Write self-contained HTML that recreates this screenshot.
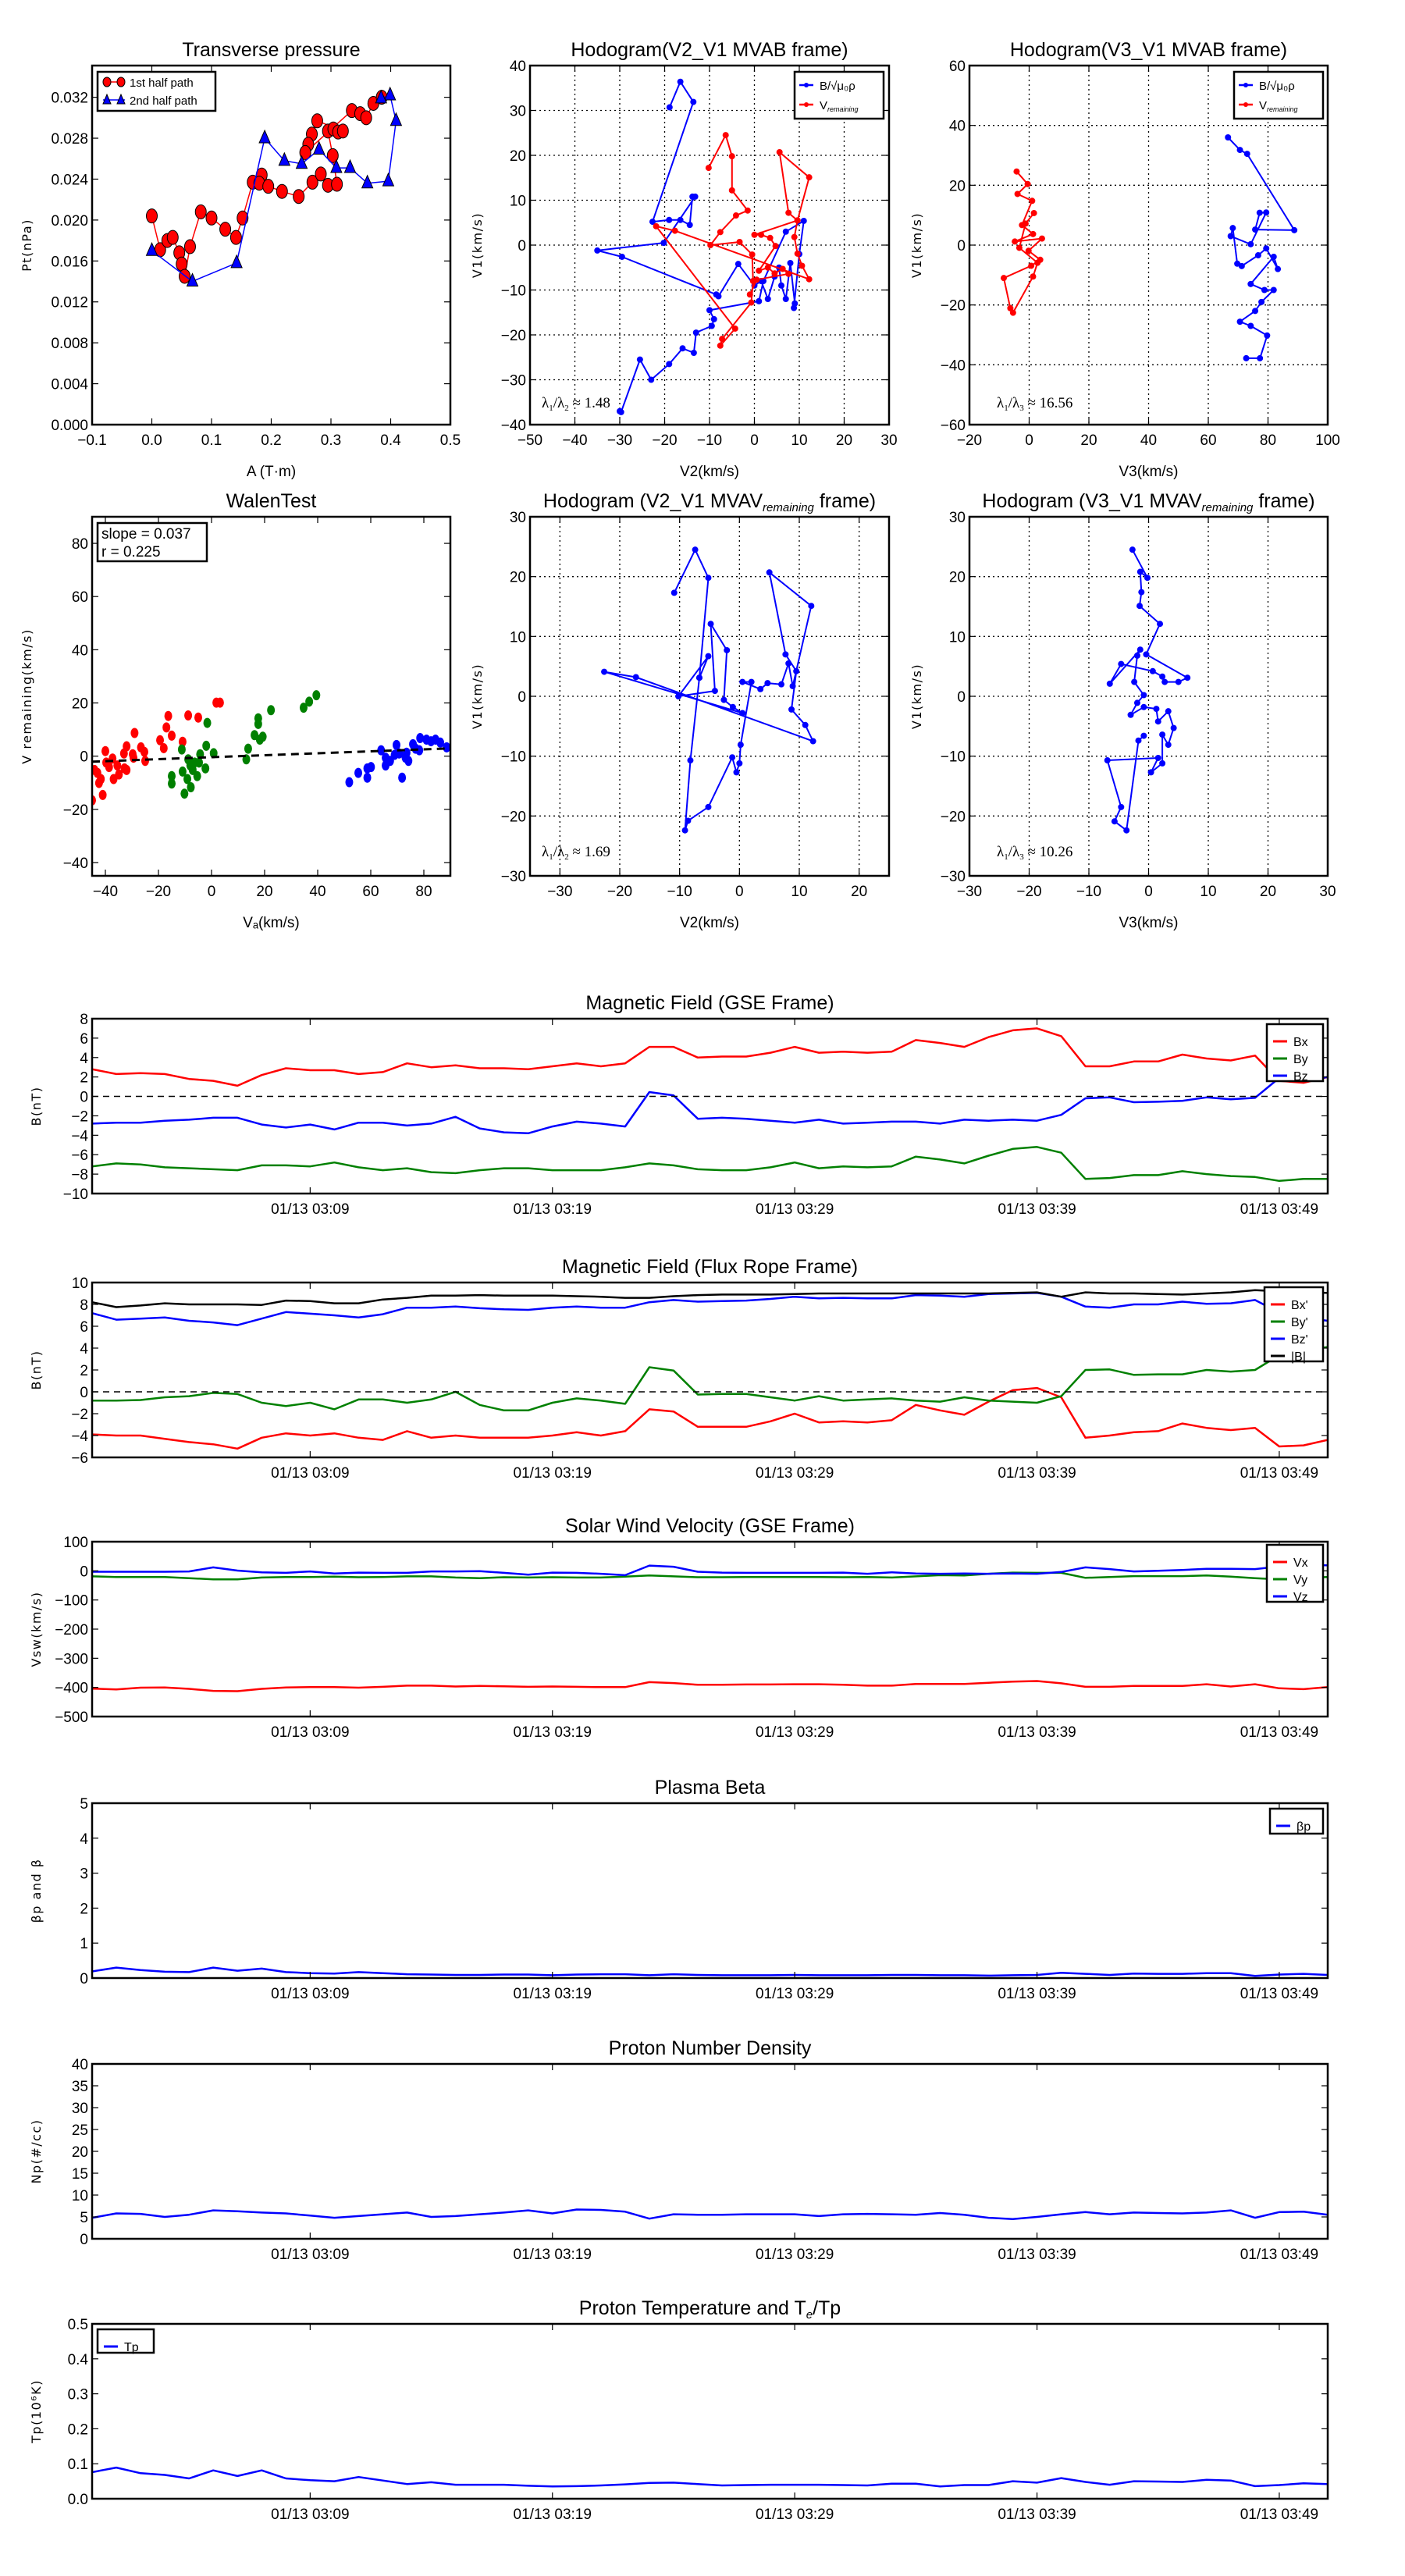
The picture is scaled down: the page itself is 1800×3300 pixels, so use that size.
<!DOCTYPE html>
<html><head><meta charset="utf-8">
<style>
html,body{margin:0;padding:0;background:#fff;}
svg{display:block;font-family:"Liberation Sans Narrow","Liberation Sans",sans-serif;}
</style></head>
<body>
<svg id="fig" width="1800" height="3300" viewBox="0 0 1800 3300" xmlns="http://www.w3.org/2000/svg"></svg>
<script>
// ---------- Time series data (one sample per minute, 03:00 .. 03:51) ----------
const tsMinutes = Array.from({length:52},(_, i)=>i);
const tickMinutes = [9,19,29,39,49];
const tickLabels = ["01/13 03:09","01/13 03:19","01/13 03:29","01/13 03:39","01/13 03:49"];

const gseBx = [2.8,2.3,2.4,2.3,1.8,1.6,1.1,2.2,2.9,2.7,2.7,2.3,2.5,3.4,3.0,3.2,2.9,2.9,2.8,3.1,3.4,3.1,3.4,5.1,5.1,4.0,4.1,4.1,4.5,5.1,4.5,4.6,4.5,4.6,5.8,5.5,5.1,6.1,6.8,7.0,6.2,3.1,3.1,3.6,3.6,4.3,3.9,3.7,4.2,1.6,1.4,2.0];
const gseBy = [-7.2,-6.9,-7.0,-7.3,-7.4,-7.5,-7.6,-7.1,-7.1,-7.2,-6.8,-7.3,-7.6,-7.4,-7.8,-7.9,-7.6,-7.4,-7.4,-7.6,-7.6,-7.6,-7.3,-6.9,-7.1,-7.5,-7.6,-7.6,-7.3,-6.8,-7.4,-7.2,-7.3,-7.2,-6.2,-6.5,-6.9,-6.1,-5.4,-5.2,-5.8,-8.5,-8.4,-8.1,-8.1,-7.7,-8.0,-8.2,-8.3,-8.7,-8.5,-8.5];
const gseBz = [-2.8,-2.7,-2.7,-2.5,-2.4,-2.2,-2.2,-2.9,-3.2,-2.9,-3.4,-2.7,-2.7,-3.0,-2.8,-2.1,-3.3,-3.7,-3.8,-3.1,-2.6,-2.8,-3.1,0.45,0.1,-2.3,-2.2,-2.3,-2.5,-2.7,-2.4,-2.8,-2.7,-2.6,-2.6,-2.8,-2.4,-2.5,-2.4,-2.5,-1.9,-0.2,-0.1,-0.6,-0.55,-0.45,-0.1,-0.3,-0.15,1.9,1.6,2.0];

const frBx = [-3.9,-4.0,-4.0,-4.3,-4.6,-4.8,-5.2,-4.2,-3.8,-4.0,-3.8,-4.2,-4.4,-3.6,-4.2,-4.0,-4.2,-4.2,-4.2,-4.0,-3.7,-4.0,-3.6,-1.6,-1.8,-3.2,-3.2,-3.2,-2.7,-2.0,-2.8,-2.7,-2.8,-2.6,-1.2,-1.7,-2.1,-0.9,0.15,0.35,-0.5,-4.2,-4.0,-3.7,-3.6,-2.9,-3.3,-3.5,-3.3,-5.0,-4.9,-4.4];
const frBy = [-0.8,-0.8,-0.75,-0.5,-0.4,-0.1,-0.2,-1.0,-1.3,-1.0,-1.6,-0.7,-0.7,-1.0,-0.7,0.0,-1.2,-1.7,-1.7,-1.0,-0.6,-0.8,-1.1,2.25,1.95,-0.25,-0.2,-0.2,-0.5,-0.8,-0.4,-0.8,-0.7,-0.6,-0.8,-0.9,-0.5,-0.8,-0.9,-1.0,-0.4,2.0,2.05,1.55,1.6,1.6,2.0,1.85,2.0,3.35,3.8,4.1];
const frBz = [7.2,6.6,6.7,6.8,6.5,6.35,6.1,6.7,7.3,7.15,7.0,6.8,7.1,7.7,7.7,7.8,7.65,7.55,7.5,7.7,7.8,7.7,7.7,8.2,8.4,8.25,8.3,8.35,8.5,8.7,8.55,8.6,8.55,8.55,8.85,8.8,8.7,8.95,9.0,9.05,8.7,7.8,7.7,8.0,8.0,8.25,8.05,8.1,8.4,7.25,6.8,6.5];
const frBt = [8.2,7.75,7.9,8.1,8.0,8.0,8.0,7.95,8.35,8.3,8.1,8.1,8.45,8.6,8.8,8.8,8.85,8.8,8.8,8.8,8.75,8.7,8.6,8.6,8.75,8.85,8.9,8.9,8.9,8.95,9.0,9.0,9.0,9.0,9.0,9.0,9.0,9.0,9.05,9.1,8.7,9.1,9.0,9.0,8.95,8.9,9.0,9.1,9.3,9.2,9.1,9.05];

const swVx = [-404,-407,-401,-400,-405,-412,-413,-405,-400,-399,-399,-401,-398,-394,-394,-397,-395,-396,-398,-397,-398,-399,-399,-382,-385,-391,-391,-390,-390,-389,-389,-391,-394,-394,-388,-388,-388,-384,-380,-378,-386,-398,-398,-395,-395,-395,-389,-397,-389,-403,-406,-399];
const swVy = [-19,-21,-21,-21,-25,-29,-29,-23,-21,-21,-20,-22,-21,-19,-19,-23,-25,-22,-23,-22,-23,-23,-20,-16,-19,-22,-22,-21,-21,-21,-21,-22,-21,-23,-19,-15,-16,-10,-6,-7,-7,-24,-21,-18,-18,-18,-16,-20,-25,-29,-24,-21];
const swVz = [-3,-3,-3,-3,-2,12,1,-5,-7,-2,-9,-6,-7,-7,-2,-2,-1,-7,-13,-6,-7,-10,-15,18,14,-3,-6,-7,-7,-7,-7,-6,-10,-5,-9,-10,-9,-10,-9,-10,-4,12,6,-2,0,3,7,7,6,15,20,19];

const betaP = [0.19,0.30,0.23,0.18,0.17,0.30,0.21,0.27,0.17,0.14,0.13,0.17,0.14,0.11,0.10,0.09,0.09,0.10,0.10,0.08,0.10,0.11,0.11,0.08,0.11,0.09,0.08,0.08,0.08,0.09,0.08,0.08,0.08,0.09,0.09,0.08,0.08,0.07,0.08,0.09,0.15,0.12,0.09,0.13,0.12,0.12,0.14,0.14,0.06,0.10,0.12,0.09];
const densNp = [4.8,5.8,5.7,5.0,5.5,6.5,6.3,6.0,5.8,5.3,4.8,5.2,5.6,6.0,5.0,5.2,5.6,6.0,6.5,5.8,6.7,6.6,6.2,4.6,5.6,5.5,5.5,5.6,5.6,5.6,5.2,5.6,5.7,5.6,5.5,5.9,5.5,4.8,4.5,5.0,5.6,6.1,5.6,6.0,5.9,5.8,6.0,6.5,4.8,6.1,6.2,5.5];
const tempTp = [0.076,0.089,0.073,0.068,0.058,0.081,0.065,0.081,0.058,0.053,0.050,0.062,0.052,0.042,0.047,0.040,0.040,0.040,0.037,0.035,0.036,0.038,0.041,0.045,0.046,0.042,0.038,0.039,0.040,0.040,0.040,0.039,0.038,0.043,0.043,0.035,0.039,0.039,0.050,0.046,0.059,0.048,0.040,0.050,0.049,0.048,0.054,0.052,0.036,0.039,0.044,0.042];

// ---------- Scatter / hodogram data ----------
const ptHalf1A  = [0.0,0.014,0.026,0.035,0.046,0.050,0.055,0.064,0.082,0.100,0.123,0.141,0.152,0.169,0.184,0.180,0.195,0.218,0.246,0.269,0.283,0.295,0.310,0.303,0.295,0.304,0.312,0.320,0.277,0.268,0.262,0.257,0.335,0.349,0.359,0.371,0.385];
const ptHalf1Pt = [0.0204,0.0171,0.0180,0.0183,0.0168,0.0157,0.0145,0.0174,0.0208,0.0202,0.0191,0.0183,0.0202,0.0237,0.0244,0.0236,0.0233,0.0228,0.0223,0.0237,0.0245,0.0234,0.0235,0.0263,0.0287,0.0289,0.0286,0.0287,0.0297,0.0284,0.0274,0.0266,0.0307,0.0304,0.0300,0.0314,0.0320];
const ptHalf2A  = [0.0,0.068,0.142,0.189,0.222,0.251,0.280,0.309,0.332,0.361,0.396,0.409,0.399,0.384];
const ptHalf2Pt = [0.0170,0.0140,0.0158,0.0280,0.0258,0.0255,0.0269,0.0251,0.0251,0.0236,0.0238,0.0297,0.0322,0.0319];

const h1BlueV2 = [-18.9,-16.5,-13.6,-22.7,-19.0,-16.5,-14.4,-13.8,-13.2,-20.2,-35.0,-29.5,-8.5,-8.0,-3.6,0.0,1.5,3.0,4.5,5.5,6.0,7.0,8.0,9.0,8.8,10.0,11.0,7.0,2.0,1.0,-10.0,-9.0,-9.5,-13.0,-13.5,-16.0,-19.0,-23.0,-25.5,-29.7,-30.0];
const h1BlueV1 = [30.7,36.4,31.9,5.2,5.6,5.6,4.5,10.8,10.8,0.5,-1.2,-2.6,-11.0,-11.4,-4.2,-9.0,-8.0,-12.0,-7.0,-5.0,-9.0,-12.0,-4.0,-13.0,-14.0,-2.0,5.4,3.0,-8.0,-12.5,-14.5,-16.5,-18.0,-19.5,-24.0,-23.0,-26.5,-30.0,-25.5,-37.2,-37.0];
const h1RedV2 = [-10.2,-6.4,-5.0,-5.0,-1.5,-4.1,-7.6,-9.8,-3.3,-0.5,-0.3,-0.7,-7.2,-7.6,-4.3,-21.9,-17.7,12.2,10.6,9.6,8.9,9.6,7.6,5.6,12.2,9.6,0.0,1.5,3.5,4.7,1.0,3.0,4.5,6.3,7.6,0.5,-1.0];
const h1RedV1 = [17.2,24.5,19.8,12.2,7.7,6.6,2.9,0.0,0.7,-2.1,-8.0,-12.8,-20.9,-22.4,-18.6,4.2,3.2,-7.6,-4.6,-1.9,1.8,5.5,7.2,20.7,15.1,5.5,2.3,2.3,1.6,-0.2,-5.7,-5.0,-6.3,-5.3,-6.4,-7.7,-11.0];

const h2BlueV3 = [66.6,70.6,73.0,88.8,75.7,77.2,79.4,74.2,67.5,68.2,69.7,71.2,76.7,79.4,83.3,81.9,74.2,78.8,81.9,77.8,75.7,70.6,74.2,79.7,77.3,72.7];
const h2BlueV1 = [36.0,31.8,30.5,5.0,5.2,10.8,10.9,0.3,3.0,5.7,-6.2,-7.0,-3.4,-1.1,-8.0,-3.9,-13.0,-15.0,-15.0,-19.0,-22.0,-25.6,-27.0,-30.2,-37.8,-37.8];
const h2RedV3 = [-4.2,-0.5,-3.9,1.0,-2.4,1.3,-4.8,4.3,-0.2,3.7,0.7,-8.5,-6.3,-5.4,1.3,2.8,-3.3,-1.2,1.6];
const h2RedV1 = [24.6,20.4,17.1,14.8,6.7,3.7,1.2,2.2,-1.9,-4.9,-6.9,-11.0,-21.1,-22.6,-10.5,-5.9,-0.9,7.2,10.7];

const walenRedVA = [1.8,3.2,-16.3,-8.8,-5.0,-17.0,-15.0,-29.0,-19.4,-10.9,-18.0,-32.0,-26.6,-25.3,-29.7,-33.0,-40.0,-37.3,-25.0,-39.7,-35.5,-32.0,-43.0,-41.7,-36.9,-34.9,-42.4,-41.0,-45.0,-29.4,-38.6,-32.8,-44.1];
const walenRedV  = [20.1,20.1,15.1,15.3,14.5,10.8,7.7,8.7,6.0,5.4,3.0,3.7,3.3,1.6,0.7,1.0,1.9,-0.9,-1.8,-2.4,-3.5,-5.2,-6.3,-8.6,-8.6,-6.9,-10.1,-14.6,-16.6,-0.6,-4.1,-4.6,-5.2];
const walenGreenVA = [39.5,36.8,34.7,22.4,17.6,17.6,16.2,19.3,18.2,-1.6,-2.0,0.8,13.8,13.1,-11.2,-8.8,-4.3,-6.4,-2.3,-7.1,-10.9,-5.4,-15.0,-9.1,-15.0,-7.8,-10.2,-4.7,-8.0];
const walenGreenV  = [22.9,20.5,18.2,17.3,14.2,12.1,7.9,7.3,6.2,12.5,3.9,1.1,2.8,-1.2,2.5,-1.2,0.7,-2.4,-4.6,-5.2,-5.8,-7.5,-7.5,-8.6,-10.3,-11.7,-14.1,-2.4,-3.5];
const walenBlueVA = [51.9,55.3,58.7,60.1,58.7,63.9,65.6,65.6,69.0,69.7,71.8,73.1,74.2,75.9,76.9,78.6,81.0,84.4,86.2,88.6,70.7,67.3,73.5,78.3,82.7];
const walenBlueV  = [-9.8,-6.3,-4.6,-4.1,-8.1,2.2,-0.6,-3.5,0.5,4.2,-8.1,-0.6,-1.8,4.5,2.8,6.8,6.2,6.2,5.1,3.3,1.0,-1.8,1.3,2.2,5.6];
const walenSlope = [0.037];
const walenIntercept = [-0.4];

const h3V2 = [-10.9,-7.4,-5.2,-6.7,-5.2,-10.2,-4.1,-4.8,-2.1,-2.6,-1.1,0.5,-22.6,-17.3,12.3,11.0,8.7,9.5,7.7,5.0,12.0,8.9,8.2,7.0,4.7,3.5,0.5,2.0,0.2,0.0,-0.5,-1.2,-5.2,-8.6,-9.1,-8.2,-6.7];
const h3V1 = [17.3,24.5,19.8,3.1,6.7,0.0,0.9,12.1,7.7,-0.6,-1.8,-2.8,4.1,3.2,-7.5,-4.8,-2.2,4.2,7.0,20.7,15.1,1.7,5.5,2.0,2.2,1.2,2.4,2.4,-8.1,-11.2,-12.7,-10.2,-18.5,-20.8,-22.4,-10.7,3.1];
const h4V3 = [-2.7,-0.2,-1.4,-1.2,-1.5,1.9,-0.4,6.5,5.0,2.7,2.3,0.7,-4.6,-6.5,-1.4,-1.9,-2.4,-0.8,-1.9,-3.0,-0.8,1.3,1.6,3.3,4.2,3.3,2.3,2.3,0.4,1.6,-6.9,-4.6,-5.7,-3.7,-1.7,-0.8];
const h4V1 = [24.5,19.8,20.8,17.4,15.1,12.1,7.0,3.1,2.4,2.4,3.3,4.2,5.4,2.1,7.8,6.8,2.4,0.2,-1.1,-3.1,-1.8,-2.1,-4.2,-2.5,-5.3,-8.1,-6.4,-11.2,-12.7,-10.3,-10.7,-18.5,-20.9,-22.4,-7.4,-6.6];

// ---------- helpers ----------
const NS = "http://www.w3.org/2000/svg";
const fig = document.getElementById('fig');
function mk(tag, attrs, parent, name, inter){
  const e = document.createElementNS(NS, tag);
  for (const k in attrs) e.setAttribute(k, attrs[k]);
  
  
  (parent || fig).appendChild(e);
  return e;
}
function txt(parent, x, y, s, size, anchor, name, extra){
  const a = Object.assign({x:x, y:y, 'font-size':size, 'text-anchor':anchor||'middle', fill:'#000'}, extra||{});
  const t = mk('text', a, parent, name, false);
  t.textContent = s;
  return t;
}
function polyline(g, xs, ys, color, w, name){
  const pts = xs.map((x,i)=>x.toFixed(1)+','+ys[i].toFixed(1)).join(' ');
  return mk('polyline', {points:pts, fill:'none', stroke:color, 'stroke-width':w, 'stroke-linejoin':'round'}, g, name, false);
}

function makeAxes(c){
  const g = mk('g', {}, fig, c.name, false);
  const sx = v => c.x0 + (v - c.xmin) / (c.xmax - c.xmin) * (c.x1 - c.x0);
  const sy = v => c.y1 - (v - c.ymin) / (c.ymax - c.ymin) * (c.y1 - c.y0);
  const clipId = 'clip-' + c.name;
  const cp = mk('clipPath', {id: clipId}, g, c.name + '-clip', false);
  mk('rect', {x:c.x0, y:c.y0, width:c.x1-c.x0, height:c.y1-c.y0}, cp, c.name + '-clip-rect', false);
  if (c.grid){
    c.xticks.forEach(v => { mk('line', {x1:sx(v), x2:sx(v), y1:c.y0, y2:c.y1, stroke:'#000', 'stroke-width':1.3, 'stroke-dasharray':'2,4'}, g, 'x-grid-line', false); });
    c.yticks.forEach(v => { mk('line', {x1:c.x0, x2:c.x1, y1:sy(v), y2:sy(v), stroke:'#000', 'stroke-width':1.3, 'stroke-dasharray':'2,4'}, g, 'y-grid-line', false); });
  }
  const plot = mk('g', {'clip-path':'url(#'+clipId+')'}, g, c.name + '-plot-area', false);
  const xt = c.xtickPos || c.xticks;
  xt.forEach((v,i) => {
    const X = sx(v);
    mk('line', {x1:X, x2:X, y1:c.y1, y2:c.y1-8, stroke:'#000', 'stroke-width':1.2}, g, 'x-tick', false);
    mk('line', {x1:X, x2:X, y1:c.y0, y2:c.y0+8, stroke:'#000', 'stroke-width':1.2}, g, 'x-tick', false);
    const lab = c.xlabels ? c.xlabels[i] : c.xfmt(v);
    txt(g, X, c.y1 + 26, lab, 19, 'middle', 'x-tick-label');
  });
  c.yticks.forEach(v => {
    const Y = sy(v);
    mk('line', {x1:c.x0, x2:c.x0+8, y1:Y, y2:Y, stroke:'#000', 'stroke-width':1.2}, g, 'y-tick', false);
    mk('line', {x1:c.x1, x2:c.x1-8, y1:Y, y2:Y, stroke:'#000', 'stroke-width':1.2}, g, 'y-tick', false);
    txt(g, c.x0 - 5, Y + 7, c.yfmt(v), 19, 'end', 'y-tick-label');
  });
  mk('rect', {x:c.x0, y:c.y0, width:c.x1-c.x0, height:c.y1-c.y0, fill:'none', stroke:'#000', 'stroke-width':2.5}, g, c.name + '-frame', false);
  const tt = txt(g, (c.x0+c.x1)/2, c.y0 - 12, c.title, 25, 'middle', 'chart-title');
  if (c.titleSub){ const s = mk('tspan', {'font-size':15, 'font-style':'italic', dy:5}, tt, 'title-subscript', false); s.textContent = c.titleSub;
    const s2 = mk('tspan', {dy:-5}, tt, 'title-suffix', false); s2.textContent = c.titleSuffix; }
  if (c.xlabel) txt(g, (c.x0+c.x1)/2, c.y1 + 66, c.xlabel, 19, 'middle', 'x-axis-title');
  if (c.ylabel){
    txt(g, 0, 0, c.ylabel, 16, 'middle', 'y-axis-title', {transform:'translate('+c.ylx+','+((c.y0+c.y1)/2)+') rotate(-90)', 'font-family':'DejaVu Sans, sans-serif', 'letter-spacing':'1.5'});
  }
  return {g, plot, sx, sy};
}

function legendBox(g, x, y, w, h, name){
  return mk('rect', {x:x, y:y, width:w, height:h, fill:'#fff', stroke:'#000', 'stroke-width':2.5}, g, name, false);
}

// ---------- Time series panels ----------
const TX0 = 118, TX1 = 1701;
function timePanel(o){
  const ax = makeAxes({name:o.name, x0:TX0, x1:TX1, y0:o.top, y1:o.top+224, xmin:0, xmax:51, ymin:o.ymin, ymax:o.ymax,
    xticks:tickMinutes, xlabels:tickLabels, yticks:o.yticks, yfmt:o.yfmt || (v=>String(v).replace('-', '\u2212')),
    title:o.title, titleSub:o.titleSub, titleSuffix:o.titleSuffix, ylabel:o.ylabel, ylx:52});
  if (o.zero){ mk('line', {x1:TX0, x2:TX1, y1:ax.sy(0), y2:ax.sy(0), stroke:'#000', 'stroke-width':1.5, 'stroke-dasharray':'8,6'}, ax.g, 'zero-line', false); }
  o.series.forEach(s => {
    polyline(ax.plot, tsMinutes.map(ax.sx), s.data.map(ax.sy), s.color, 2.5, s.name);
  });
  const L = o.legend;
  if (!L) return ax;
  const lg = mk('g', {}, ax.g, o.name + '-legend', false);
  legendBox(lg, L.x, L.y, L.w, L.h, 'legend-box');
  o.series.forEach((s,i) => {
    const yy = L.y + 22 + i*L.dy;
    mk('line', {x1:L.x+8, x2:L.x+26, y1:yy, y2:yy, stroke:s.color, 'stroke-width':3}, lg, 'legend-swatch', false);
    txt(lg, L.x+34, yy+6, s.label, 16, 'start', 'legend-entry');
  });
  return ax;
}
const tsTicksB = [-10,-8,-6,-4,-2,0,2,4,6,8];
timePanel({name:'gse-field-chart', top:1305, ymin:-10, ymax:8, yticks:tsTicksB, title:'Magnetic Field (GSE Frame)', ylabel:'B(nT)', zero:true,
  series:[{data:gseBx,color:'#ff0000',label:'Bx',name:'bx-line'},{data:gseBy,color:'#008000',label:'By',name:'by-line'},{data:gseBz,color:'#0000ff',label:'Bz',name:'bz-line'}],
  legend:{x:1623,y:1312,w:72,h:73,dy:22}});
timePanel({name:'flux-rope-chart', top:1643, ymin:-6, ymax:10, yticks:[-6,-4,-2,0,2,4,6,8,10], title:'Magnetic Field (Flux Rope Frame)', ylabel:'B(nT)', zero:true,
  series:[{data:frBx,color:'#ff0000',label:"Bx'",name:'bx-prime-line'},{data:frBy,color:'#008000',label:"By'",name:'by-prime-line'},{data:frBz,color:'#0000ff',label:"Bz'",name:'bz-prime-line'},{data:frBt,color:'#000000',label:'|B|',name:'btotal-line'}],
  legend:{x:1620,y:1649,w:75,h:95,dy:22}});
timePanel({name:'solar-wind-chart', top:1975, ymin:-500, ymax:100, yticks:[-500,-400,-300,-200,-100,0,100], title:'Solar Wind Velocity (GSE Frame)', ylabel:'Vsw(km/s)',
  series:[{data:swVx,color:'#ff0000',label:'Vx',name:'vx-line'},{data:swVy,color:'#008000',label:'Vy',name:'vy-line'},{data:swVz,color:'#0000ff',label:'Vz',name:'vz-line'}],
  legend:{x:1623,y:1979,w:72,h:73,dy:22}});
timePanel({name:'plasma-beta-chart', top:2310, ymin:0, ymax:5, yticks:[0,1,2,3,4,5], title:'Plasma Beta', ylabel:'\u03b2p and \u03b2',
  series:[{data:betaP,color:'#0000ff',label:'\u03b2p',name:'beta-p-line'}],
  legend:{x:1627,y:2317,w:68,h:32,dy:22}});
timePanel({name:'density-chart', top:2644, ymin:0, ymax:40, yticks:[0,5,10,15,20,25,30,35,40], title:'Proton Number Density', ylabel:'Np(#/cc)',
  series:[{data:densNp,color:'#0000ff',label:'Np',name:'np-line'}],
  legend:null});
timePanel({name:'temperature-chart', top:2977, ymin:0, ymax:0.5, yticks:[0,0.1,0.2,0.3,0.4,0.5], yfmt:v=>v.toFixed(1), title:'Proton Temperature and T', titleSub:'e', titleSuffix:'/Tp', ylabel:'Tp(10\u2076K)',
  series:[{data:tempTp,color:'#0000ff',label:'Tp',name:'tp-line'}],
  legend:{x:125,y:2984,w:72,h:30,dy:22}});

// ---------- Transverse pressure ----------
(function(){
  const ax = makeAxes({name:'transverse-pressure-chart', x0:118, x1:577, y0:84, y1:544, xmin:-0.1, xmax:0.5, ymin:0, ymax:0.0351,
    xticks:[-0.1,0,0.1,0.2,0.3,0.4,0.5], yticks:[0,0.004,0.008,0.012,0.016,0.02,0.024,0.028,0.032],
    xfmt:v=>v.toFixed(1).replace('-', '\u2212'), yfmt:v=>v.toFixed(3), title:'Transverse pressure', xlabel:'A (T\u00b7m)', ylabel:'Pt(nPa)', ylx:40});
  const h1x = ptHalf1A.map(ax.sx), h1y = ptHalf1Pt.map(ax.sy);
  polyline(ax.plot, h1x, h1y, '#ff0000', 1.5, 'first-half-path-line');
  h1x.forEach((x,i)=>{ mk('ellipse', {cx:x, cy:h1y[i], rx:7, ry:9, fill:'#ff0000', stroke:'#000', 'stroke-width':1}, ax.plot, 'first-half-point', false); });
  const h2x = ptHalf2A.map(ax.sx), h2y = ptHalf2Pt.map(ax.sy);
  polyline(ax.plot, h2x, h2y, '#0000ff', 1.5, 'second-half-path-line');
  h2x.forEach((x,i)=>{ const y=h2y[i]; mk('polygon', {points:(x)+','+(y-10)+' '+(x-7)+','+(y+6)+' '+(x+7)+','+(y+6), fill:'#0000ff', stroke:'#000', 'stroke-width':1}, ax.plot, 'second-half-point', false); });
  const lg = mk('g', {}, ax.g, 'pressure-legend', false);
  legendBox(lg, 125, 92, 151, 50, 'legend-box');
  mk('line', {x1:132,x2:160,y1:105,y2:105,stroke:'#ff0000','stroke-width':1.5}, lg, 'legend-swatch', false);
  mk('ellipse', {cx:137,cy:105,rx:5,ry:6,fill:'#ff0000',stroke:'#000'}, lg, 'legend-marker', false);
  mk('ellipse', {cx:155,cy:105,rx:5,ry:6,fill:'#ff0000',stroke:'#000'}, lg, 'legend-marker', false);
  txt(lg, 166, 111, '1st half path', 15, 'start', 'legend-entry');
  mk('line', {x1:132,x2:160,y1:128,y2:128,stroke:'#0000ff','stroke-width':1.5}, lg, 'legend-swatch', false);
  mk('polygon', {points:'137,121 132,133 142,133', fill:'#0000ff', stroke:'#000'}, lg, 'legend-marker', false);
  mk('polygon', {points:'155,121 150,133 160,133', fill:'#0000ff', stroke:'#000'}, lg, 'legend-marker', false);
  txt(lg, 166, 134, '2nd half path', 15, 'start', 'legend-entry');
})();

function hodoLegend(g, x, y){
  const lg = mk('g', {}, g, 'hodogram-legend', false);
  legendBox(lg, x, y, 114, 60, 'legend-box');
  mk('line', {x1:x+6,x2:x+24,y1:y+17,y2:y+17,stroke:'#0000ff','stroke-width':2.5}, lg, 'legend-swatch', false);
  mk('circle', {cx:x+15,cy:y+17,r:3,fill:'#0000ff'}, lg, 'legend-marker', false);
  txt(lg, x+32, y+23, 'B/\u221a\u03bc\u2080\u03c1', 15, 'start', 'legend-entry');
  mk('line', {x1:x+6,x2:x+24,y1:y+42,y2:y+42,stroke:'#ff0000','stroke-width':2.5}, lg, 'legend-swatch', false);
  mk('circle', {cx:x+15,cy:y+42,r:3,fill:'#ff0000'}, lg, 'legend-marker', false);
  const t = txt(lg, x+32, y+48, 'V', 15, 'start', 'legend-entry');
  const s = mk('tspan', {'font-size':9, 'font-style':'italic', dy:3}, t, 'legend-subscript', false); s.textContent = 'remaining';
}
function drawPath(ax, xs, ys, color, name){
  const px = xs.map(ax.sx), py = ys.map(ax.sy);
  polyline(ax.plot, px, py, color, 2, name + '-line');
  px.forEach((x,i)=>{ mk('circle', {cx:x, cy:py[i], r:4, fill:color}, ax.plot, name + '-point', false); });
}
function lambdaText(g, x, y, val){
  const t = txt(g, x, y, '\u03bb', 19, 'start', 'eigenvalue-ratio', {'font-family':'Liberation Serif, serif'});
  let s = mk('tspan', {'font-size':11, dy:4}, t, 'subscript', false); s.textContent = '1';
  s = mk('tspan', {dy:-4}, t, 'ratio-part', false); s.textContent = '/\u03bb';
  s = mk('tspan', {'font-size':11, dy:4}, t, 'subscript', false); s.textContent = (val.sub);
  s = mk('tspan', {dy:-4}, t, 'ratio-value', false); s.textContent = ' \u2248 ' + val.v;
}
const fmtInt = v => String(v).replace('-', '\u2212');

(function(){
  const ax = makeAxes({name:'hodogram-v2-v1-mvab', x0:679, x1:1139, y0:84, y1:544, xmin:-50, xmax:30, ymin:-40, ymax:40, grid:true,
    xticks:[-50,-40,-30,-20,-10,0,10,20,30], yticks:[-40,-30,-20,-10,0,10,20,30,40], xfmt:fmtInt, yfmt:fmtInt,
    title:'Hodogram(V2_V1 MVAB frame)', xlabel:'V2(km/s)', ylabel:'V1(km/s)', ylx:617});
  drawPath(ax, h1BlueV2, h1BlueV1, '#0000ff', 'b-hodogram');
  drawPath(ax, h1RedV2, h1RedV1, '#ff0000', 'v-hodogram');
  hodoLegend(ax.g, 1018, 92);
  lambdaText(ax.g, 694, 522, {sub:'2', v:'1.48'});
})();
(function(){
  const ax = makeAxes({name:'hodogram-v3-v1-mvab', x0:1242, x1:1701, y0:84, y1:544, xmin:-20, xmax:100, ymin:-60, ymax:60, grid:true,
    xticks:[-20,0,20,40,60,80,100], yticks:[-60,-40,-20,0,20,40,60], xfmt:fmtInt, yfmt:fmtInt,
    title:'Hodogram(V3_V1 MVAB frame)', xlabel:'V3(km/s)', ylabel:'V1(km/s)', ylx:1180});
  drawPath(ax, h2BlueV3, h2BlueV1, '#0000ff', 'b-hodogram');
  drawPath(ax, h2RedV3, h2RedV1, '#ff0000', 'v-hodogram');
  hodoLegend(ax.g, 1581, 92);
  lambdaText(ax.g, 1277, 522, {sub:'3', v:'16.56'});
})();
(function(){
  const ax = makeAxes({name:'walen-test-chart', x0:118, x1:577, y0:662, y1:1122, xmin:-45, xmax:90, ymin:-45, ymax:90,
    xticks:[-40,-20,0,20,40,60,80], yticks:[-40,-20,0,20,40,60,80], xfmt:fmtInt, yfmt:fmtInt,
    title:'WalenTest', xlabel:'V\u2090(km/s)', ylabel:'V remaining(km/s)', ylx:40});
  const groups = [[walenRedVA,walenRedV,'#ff0000','walen-red-point'],[walenGreenVA,walenGreenV,'#008000','walen-green-point'],[walenBlueVA,walenBlueV,'#0000ff','walen-blue-point']];
  groups.forEach(gp => gp[0].forEach((v,i)=>{ mk('ellipse', {cx:ax.sx(v), cy:ax.sy(gp[1][i]), rx:5, ry:6.5, fill:gp[2]}, ax.plot, gp[3], false); }));
  const fx = [-45, 90];
  mk('line', {x1:ax.sx(fx[0]), y1:ax.sy(walenSlope[0]*fx[0]+walenIntercept[0]), x2:ax.sx(fx[1]), y2:ax.sy(walenSlope[0]*fx[1]+walenIntercept[0]), stroke:'#000', 'stroke-width':3, 'stroke-dasharray':'10,7'}, ax.plot, 'walen-fit-line', false);
  const lg = mk('g', {}, ax.g, 'walen-annotation', false);
  legendBox(lg, 125, 670, 140, 49, 'annotation-box');
  txt(lg, 130, 690, 'slope = 0.037', 19, 'start', 'slope-text');
  txt(lg, 130, 713, 'r = 0.225', 19, 'start', 'correlation-text');
})();
(function(){
  const ax = makeAxes({name:'hodogram-v2-v1-mvav', x0:679, x1:1139, y0:662, y1:1122, xmin:-35, xmax:25, ymin:-30, ymax:30, grid:true,
    xticks:[-30,-20,-10,0,10,20], yticks:[-30,-20,-10,0,10,20,30], xfmt:fmtInt, yfmt:fmtInt,
    title:'Hodogram (V2_V1 MVAV', titleSub:'remaining', titleSuffix:' frame)', xlabel:'V2(km/s)', ylabel:'V1(km/s)', ylx:617});
  drawPath(ax, h3V2, h3V1, '#0000ff', 'b-hodogram');
  lambdaText(ax.g, 694, 1097, {sub:'2', v:'1.69'});
})();
(function(){
  const ax = makeAxes({name:'hodogram-v3-v1-mvav', x0:1242, x1:1701, y0:662, y1:1122, xmin:-30, xmax:30, ymin:-30, ymax:30, grid:true,
    xticks:[-30,-20,-10,0,10,20,30], yticks:[-30,-20,-10,0,10,20,30], xfmt:fmtInt, yfmt:fmtInt,
    title:'Hodogram (V3_V1 MVAV', titleSub:'remaining', titleSuffix:' frame)', xlabel:'V3(km/s)', ylabel:'V1(km/s)', ylx:1180});
  drawPath(ax, h4V3, h4V1, '#0000ff', 'b-hodogram');
  lambdaText(ax.g, 1277, 1097, {sub:'3', v:'10.26'});
})();
</script>
</body></html>
